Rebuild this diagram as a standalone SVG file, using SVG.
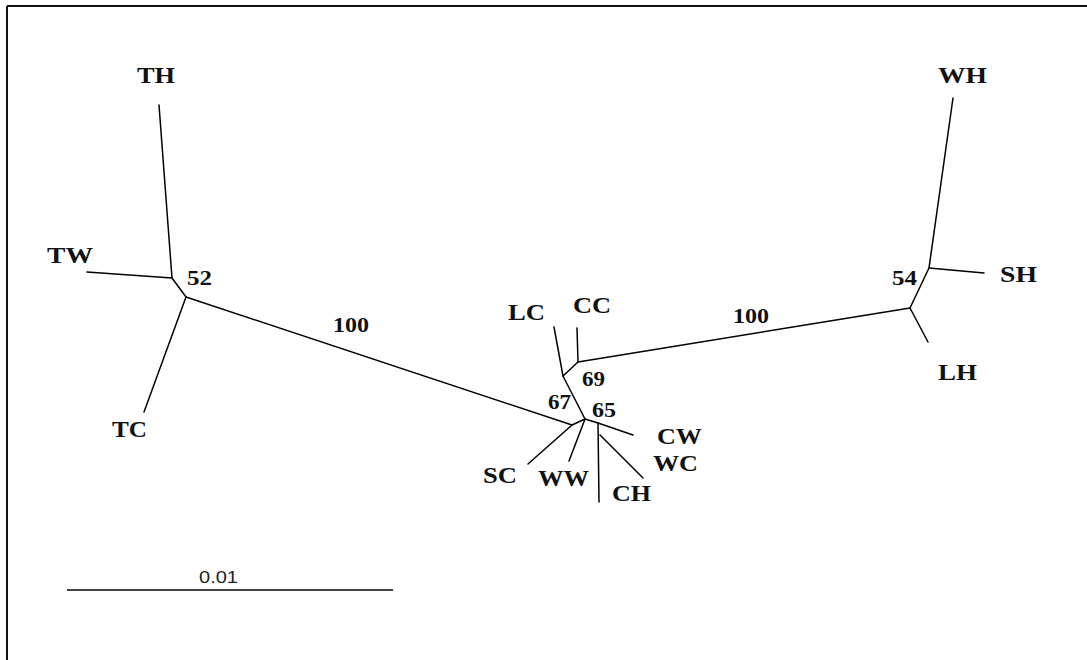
<svg xmlns="http://www.w3.org/2000/svg" width="1087" height="660" viewBox="0 0 1087 660">
<style>
.e{stroke:#000;stroke-width:1.5;fill:none;stroke-linecap:round}
.lab{font-family:"Liberation Serif","Times New Roman",serif;font-weight:bold;font-size:23px;fill:#111}
.bs{font-family:"Liberation Serif","Times New Roman",serif;font-weight:bold;font-size:22px;fill:#111}
.sc{font-family:"Liberation Sans",Arial,sans-serif;font-size:17px;fill:#222}
</style>
<rect width="1087" height="660" fill="#fff"/>
<g id="frame" fill="none" stroke="#111" stroke-width="2">
<line x1="7" y1="6" x2="1087" y2="6"/>
<line x1="7" y1="6" x2="7" y2="660"/>
</g>
<g id="connectors" class="e">
<line x1="159" y1="105" x2="172" y2="278"/>
<line x1="87" y1="272" x2="172" y2="278"/>
<line x1="172" y1="278" x2="186" y2="297"/>
<line x1="186" y1="297" x2="144" y2="412"/>
<line x1="186" y1="297" x2="572" y2="425"/>
<line x1="572" y1="425" x2="528" y2="464"/>
<line x1="572" y1="425" x2="585" y2="419"/>
<line x1="585" y1="419" x2="569" y2="461"/>
<line x1="585" y1="419" x2="563" y2="376"/>
<line x1="563" y1="376" x2="554" y2="327"/>
<line x1="563" y1="376" x2="578" y2="362"/>
<line x1="578" y1="362" x2="577" y2="328"/>
<line x1="578" y1="362" x2="910" y2="308"/>
<line x1="910" y1="308" x2="928" y2="342"/>
<line x1="910" y1="308" x2="929" y2="268"/>
<line x1="929" y1="268" x2="953" y2="98"/>
<line x1="929" y1="268" x2="984" y2="273"/>
<line x1="585" y1="419" x2="598" y2="423"/>
<line x1="598" y1="423" x2="633" y2="435"/>
<line x1="598" y1="423" x2="599" y2="502"/>
<line x1="600" y1="435" x2="643" y2="478"/>
</g>
<g id="node-TH"><text class="lab" x="137" y="83" textLength="38" lengthAdjust="spacingAndGlyphs">TH</text></g>
<g id="node-TW"><text class="lab" x="47" y="263" textLength="46" lengthAdjust="spacingAndGlyphs">TW</text></g>
<g id="node-TC"><text class="lab" x="112" y="437" textLength="35" lengthAdjust="spacingAndGlyphs">TC</text></g>
<g id="node-LC"><text class="lab" x="508" y="320" textLength="37" lengthAdjust="spacingAndGlyphs">LC</text></g>
<g id="node-CC"><text class="lab" x="573" y="313" textLength="38" lengthAdjust="spacingAndGlyphs">CC</text></g>
<g id="node-SC"><text class="lab" x="483" y="483" textLength="34" lengthAdjust="spacingAndGlyphs">SC</text></g>
<g id="node-WW"><text class="lab" x="538" y="486" textLength="51" lengthAdjust="spacingAndGlyphs">WW</text></g>
<g id="node-CW"><text class="lab" x="657" y="444" textLength="45" lengthAdjust="spacingAndGlyphs">CW</text></g>
<g id="node-WC"><text class="lab" x="653" y="471" textLength="45" lengthAdjust="spacingAndGlyphs">WC</text></g>
<g id="node-CH"><text class="lab" x="612" y="501" textLength="39" lengthAdjust="spacingAndGlyphs">CH</text></g>
<g id="node-WH"><text class="lab" x="938" y="83" textLength="49" lengthAdjust="spacingAndGlyphs">WH</text></g>
<g id="node-SH"><text class="lab" x="1000" y="282" textLength="37" lengthAdjust="spacingAndGlyphs">SH</text></g>
<g id="node-LH"><text class="lab" x="938" y="380" textLength="39" lengthAdjust="spacingAndGlyphs">LH</text></g>
<g id="bootstrap">
<text class="bs" x="187" y="285" textLength="25" lengthAdjust="spacingAndGlyphs">52</text>
<text class="bs" x="333" y="332" textLength="36" lengthAdjust="spacingAndGlyphs">100</text>
<text class="bs" x="733" y="323" textLength="36" lengthAdjust="spacingAndGlyphs">100</text>
<text class="bs" x="582" y="386" textLength="23" lengthAdjust="spacingAndGlyphs">69</text>
<text class="bs" x="548" y="409" textLength="23" lengthAdjust="spacingAndGlyphs">67</text>
<text class="bs" x="592" y="417" textLength="24" lengthAdjust="spacingAndGlyphs">65</text>
<text class="bs" x="892" y="285" textLength="25" lengthAdjust="spacingAndGlyphs">54</text>
</g>
<g id="scale-bar">
<line x1="67" y1="590" x2="393" y2="590" stroke="#444" stroke-width="2"/>
<text class="sc" x="199" y="583" textLength="39" lengthAdjust="spacingAndGlyphs">0.01</text>
</g>
</svg>
